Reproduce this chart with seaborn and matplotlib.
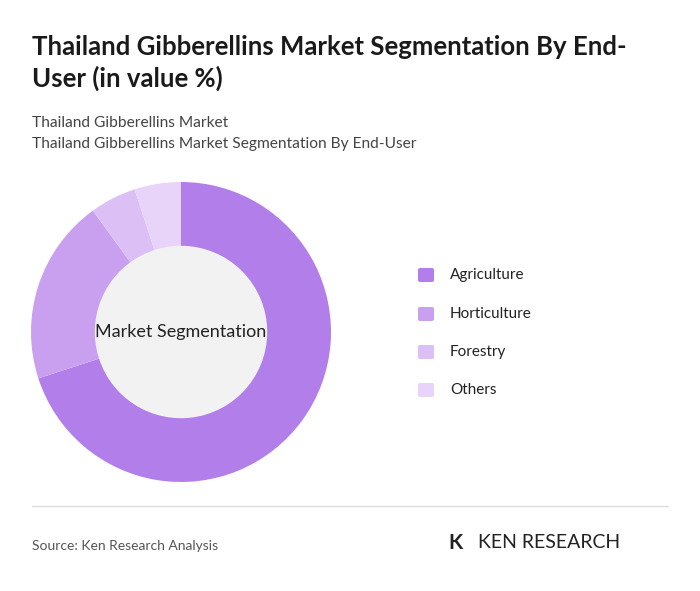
import matplotlib
matplotlib.use("Agg")
import matplotlib.pyplot as plt
import seaborn as sns
from matplotlib.patches import Circle, FancyBboxPatch

sns.set_theme(style="white")
plt.rcParams['font.family'] = ['Lato', 'DejaVu Sans']

categories = ["Agriculture", "Horticulture", "Forestry", "Others"]
values = [70, 20, 5, 5]
colors = ["#b27fea", "#c8a0ef", "#dbbff5", "#e7d4f8"]

fig = plt.figure(figsize=(7.0, 5.91), dpi=100)
fig.patch.set_facecolor("white")
W, H = 700, 591
def fx(x): return x / W
def fy(y): return 1 - y / H

fig.text(fx(32), fy(63), "Thailand Gibberellins Market Segmentation By End-\nUser (in value %)",
         fontsize=18.5, fontweight="bold", color="#1a1a1a", va="center", linespacing=1.3)
fig.text(fx(32), fy(123), "Thailand Gibberellins Market", fontsize=11.2, color="#444", va="center")
fig.text(fx(32), fy(144), "Thailand Gibberellins Market Segmentation By End-User", fontsize=11.2, color="#444", va="center")

ax = fig.add_axes([fx(31), fy(482), 300 / W, 300 / H])
ax.pie(values, colors=colors, startangle=90, counterclock=False,
       wedgeprops=dict(width=0.43, edgecolor="none"), radius=1)
ax.add_patch(Circle((0, 0), 0.57, color="#f2f2f2", zorder=3))
ax.text(0, 0, "Market Segmentation", ha="center", va="center", fontsize=13, color="#222", zorder=4)
ax.set_aspect("equal")
ax.set_xlim(-1, 1); ax.set_ylim(-1, 1)

ys = [275, 314, 352, 390]
for c, col, y in zip(categories, colors, ys):
    fig.patches.append(FancyBboxPatch((fx(418), fy(y + 7)), 16 / W, 14 / H,
                                      boxstyle="round,pad=0,rounding_size=0.003",
                                      transform=fig.transFigure, facecolor=col, edgecolor="none"))
    fig.text(fx(450), fy(y), c, fontsize=11, color="#222", va="center")

fig.add_artist(plt.Line2D([fx(32), fx(668)], [fy(506), fy(506)], color="#dddddd", lw=1))
fig.text(fx(32), fy(546), "Source: Ken Research Analysis", fontsize=10, color="#555", va="center")
fig.text(fx(448), fy(543), "K", fontsize=15, fontweight="bold", color="#222", va="center")
fig.text(fx(478), fy(543), "KEN RESEARCH", fontsize=14, color="#222", va="center")

fig.savefig("out.png", dpi=100)
